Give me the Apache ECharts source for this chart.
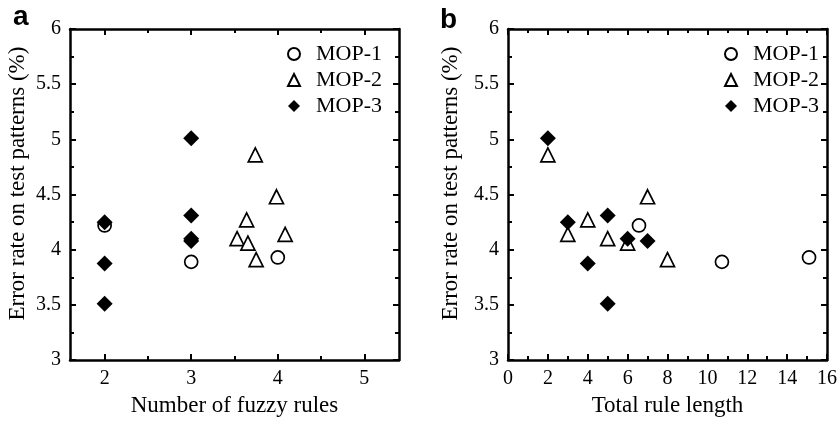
<!DOCTYPE html>
<html>
<head>
<meta charset="utf-8">
<script src="https://cdn.jsdelivr.net/npm/echarts@6/dist/echarts.min.js"></script>
<style>html,body{margin:0;padding:0;background:#fff;}#c{width:840px;height:422px;}</style>
</head>
<body>
<div id="c"></div>
<script>
// ---- data ----
const seriesNames = ['MOP-1', 'MOP-2', 'MOP-3'];
// panel a: number of fuzzy rules vs error rate
const rulesMOP1 = [2, 3, 4];
const errMOP1 = [4.22, 3.89, 3.93];
const rulesMOP2 = [3.74, 4.085, 3.64, 3.53, 3.655, 3.985, 3.75];
const errMOP2 = [4.86, 4.14, 4.27, 4.10, 4.06, 4.48, 3.91];
const rulesMOP3 = [2, 2, 2, 3, 3, 3, 3];
const errMOP3 = [4.25, 3.875, 3.51, 5.01, 4.31, 4.10, 4.08];
// panel b: total rule length vs error rate
const lenMOP1 = [6.57, 10.73, 15.1];
const lenMOP2 = [2, 3, 4, 5, 6, 7, 8];
const lenMOP3 = [3, 4, 5, 2, 5, 6, 7];
// tick labels
const xTicksA = [2, 3, 4, 5];
const xMinorA = [2.5, 3.5, 4.5];
const yTicks = [3, 3.5, 4, 4.5, 5, 5.5, 6];

const SERIF = 'Liberation Serif';
const BLACK = '#000';

function zip(xs, ys) { return xs.map((x, i) => [x, ys[i]]); }

const symbols = ['circle', 'triangle', 'diamond'];
const sizes = [13, 14, 16];
const styles = [
  { color: '#fff', borderColor: BLACK, borderWidth: 1.7, opacity: 1 },
  { color: '#fff', borderColor: BLACK, borderWidth: 1.7, opacity: 1 },
  { color: BLACK, borderColor: BLACK, borderWidth: 0, opacity: 1 }
];

function ls(w) { return { color: BLACK, width: w, opacity: 1 }; }

function xAxisBase(g, pos, extra) {
  return Object.assign({
    type: 'value', gridIndex: g, position: pos,
    axisLine: { show: true, onZero: false, lineStyle: ls(2.5) },
    axisTick: { show: true, inside: true, length: 6, lineStyle: ls(2) },
    splitLine: { show: false },
    axisLabel: { show: false }
  }, extra);
}

const grids = [
  { left: 70, right: 441, top: 29, bottom: 60 },
  { left: 508, right: 10, top: 29, bottom: 60 }
];

const xAxes = [];
const yAxes = [];

// panel a x axes
const aMin = 1.6, aMax = 5.4;
xAxes.push(xAxisBase(0, 'bottom', {
  min: aMin, max: aMax,
  axisTick: { show: true, inside: true, length: 6, lineStyle: ls(2), customValues: xTicksA },
  axisLabel: { show: true, customValues: xTicksA, fontFamily: SERIF, fontSize: 20, color: BLACK, margin: 9 },
  name: 'Number of fuzzy rules', nameLocation: 'middle', nameGap: 31,
  nameTextStyle: { fontFamily: SERIF, fontSize: 23, color: BLACK }
}));
xAxes.push(xAxisBase(0, 'bottom', {
  min: aMin, max: aMax,
  axisLine: { show: false },
  axisTick: { show: true, inside: true, length: 4, lineStyle: ls(2), customValues: xMinorA }
}));
xAxes.push(xAxisBase(0, 'top', {
  min: aMin, max: aMax,
  axisTick: { show: true, inside: true, length: 6, lineStyle: ls(2), customValues: xTicksA }
}));
xAxes.push(xAxisBase(0, 'top', {
  min: aMin, max: aMax,
  axisLine: { show: false },
  axisTick: { show: true, inside: true, length: 4, lineStyle: ls(2), customValues: xMinorA }
}));

// panel b x axes
const minorX = { show: true, splitNumber: 2, length: 4, lineStyle: ls(2) };
xAxes.push(xAxisBase(1, 'bottom', {
  min: 0, max: 16, interval: 2, minorTick: minorX,
  axisLabel: { show: true, fontFamily: SERIF, fontSize: 20, color: BLACK, margin: 9 },
  name: 'Total rule length', nameLocation: 'middle', nameGap: 31,
  nameTextStyle: { fontFamily: SERIF, fontSize: 23, color: BLACK }
}));
xAxes.push(xAxisBase(1, 'top', {
  min: 0, max: 16, interval: 2, minorTick: minorX
}));

// y axes
const minorY = { show: true, splitNumber: 2, length: 4, lineStyle: ls(2) };
function yAxisMain(g, gap) {
  return {
    type: 'value', gridIndex: g, position: 'left', min: 3, max: 6, interval: 0.5,
    axisLine: { show: true, onZero: false, lineStyle: ls(2.5) },
    axisTick: { show: true, inside: true, length: 6, lineStyle: ls(2) },
    minorTick: minorY,
    splitLine: { show: false },
    axisLabel: { show: true, fontFamily: SERIF, fontSize: 20, color: BLACK, margin: 9 },
    name: 'Error rate on test patterns (%)', nameLocation: 'middle', nameGap: gap,
    nameTextStyle: { fontFamily: SERIF, fontSize: 23, color: BLACK, padding: [0, 0, 0, 22] }
  };
}
function yAxisMirror(g) {
  return {
    type: 'value', gridIndex: g, position: 'right', min: 3, max: 6, interval: 0.5,
    axisLine: { show: true, onZero: false, lineStyle: ls(2.5) },
    axisTick: { show: true, inside: true, length: 6, lineStyle: ls(2) },
    minorTick: minorY,
    splitLine: { show: false },
    axisLabel: { show: false }
  };
}
yAxes.push(yAxisMain(0, 41));
yAxes.push(yAxisMirror(0));
yAxes.push(yAxisMain(1, 46));
yAxes.push(yAxisMirror(1));

const dataA = [zip(rulesMOP1, errMOP1), zip(rulesMOP2, errMOP2), zip(rulesMOP3, errMOP3)];
const dataB = [zip(lenMOP1, errMOP1), zip(lenMOP2, errMOP2), zip(lenMOP3, errMOP3)];

const series = [];
[[dataA, 0, 0], [dataB, 4, 2]].forEach(([data, xi, yi]) => {
  seriesNames.forEach((n, i) => {
    series.push({
      name: n, type: 'scatter', xAxisIndex: xi, yAxisIndex: yi,
      symbol: symbols[i], symbolSize: sizes[i],
      itemStyle: styles[i],
      emphasis: { disabled: true },
      data: data[i]
    });
  });
});

function legend(left) {
  return {
    orient: 'vertical', left: left, top: 43, padding: 0,
    itemGap: 4, itemWidth: 12, itemHeight: 12,
    textStyle: { fontFamily: SERIF, fontSize: 22, color: BLACK, lineHeight: 22, padding: [0, 0, 0, 11] },
    data: seriesNames,
    selectedMode: false
  };
}

const chart = echarts.init(document.getElementById('c'), null, { renderer: 'canvas' });
chart.setOption({
  animation: false,
  backgroundColor: '#fff',
  grid: grids,
  xAxis: xAxes,
  yAxis: yAxes,
  legend: [legend(287), legend(724)],
  graphic: [
    { type: 'text', left: 13, top: 3, style: { text: 'a', font: 'bold 28px "Liberation Sans"', fill: BLACK } },
    { type: 'text', left: 440, top: 6, style: { text: 'b', font: 'bold 28px "Liberation Sans"', fill: BLACK } }
  ],
  series: series
});
</script>
</body>
</html>
